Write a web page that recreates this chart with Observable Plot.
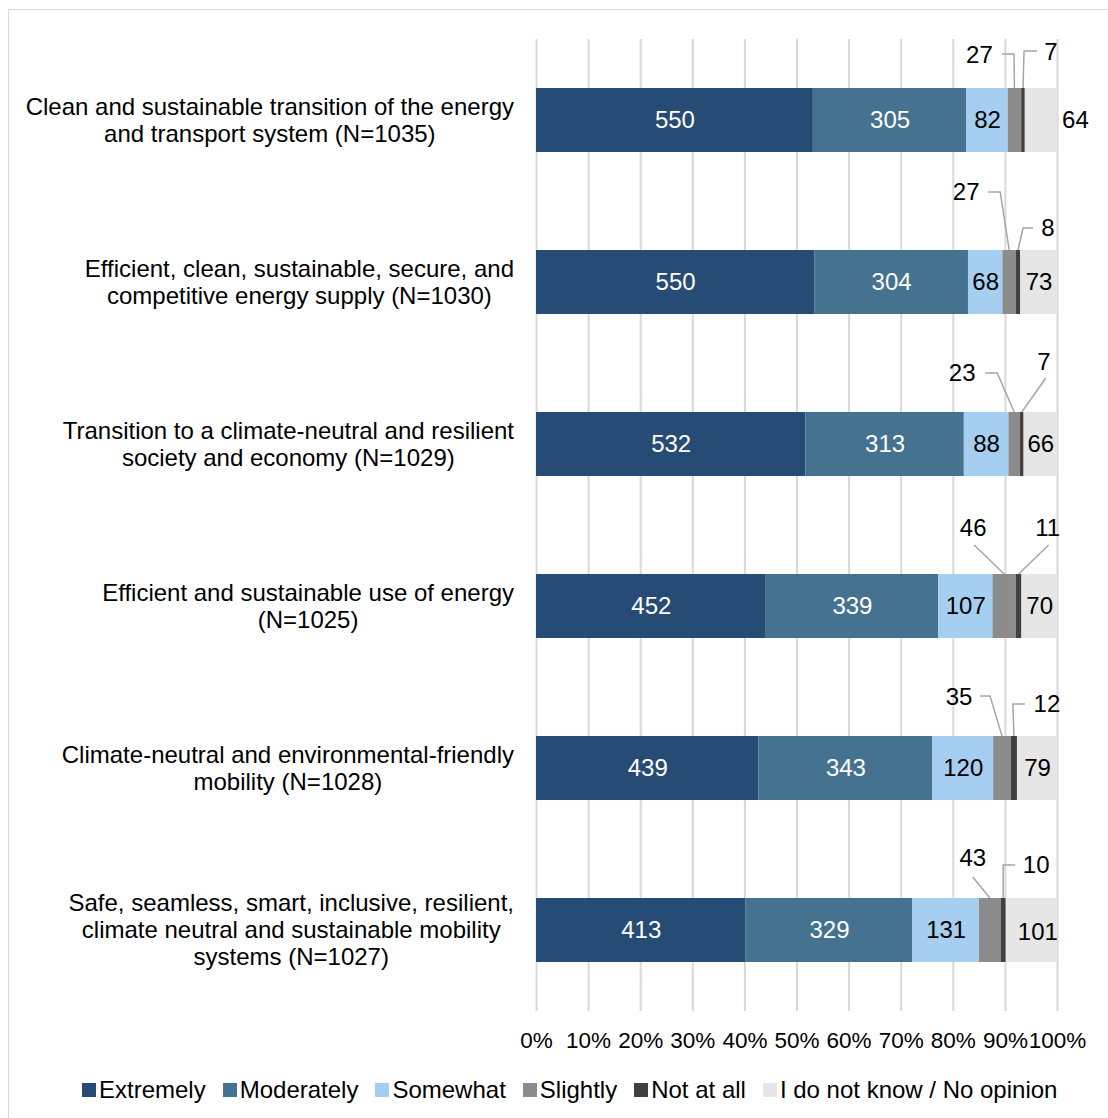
<!DOCTYPE html>
<html>
<head>
<meta charset="utf-8">
<script src="https://cdn.jsdelivr.net/npm/d3@7"></script>
<script src="https://cdn.jsdelivr.net/npm/@observablehq/plot@0.6"></script>
<style>
  html, body { margin: 0; padding: 0; background: #fff; overflow: hidden; }
  body { font-family: "Liberation Sans", Arial, sans-serif; width: 1108px; height: 1118px; position: relative; }
  #frame { position: absolute; left: 8px; top: 9px; width: 1300px; height: 1300px; border: 1px solid #d9d9d9; }
  #chart { position: absolute; left: 0; top: 0; }
  #legend { position: absolute; left: 82px; top: 1076px; display: flex; align-items: center; font-size: 24px; line-height: 28px; color: #000; white-space: nowrap; }
  #legend .item { display: flex; align-items: center; margin-right: 17px; }
  #legend .sw { width: 14px; height: 14px; margin-right: 3px; }
</style>
</head>
<body>
<div id="frame"></div>
<div id="chart"></div>
<div id="legend"></div>
<script>
// ---- data ----
const categories = [
  "Clean and sustainable transition of the energy\nand transport system (N=1035)",
  "Efficient, clean, sustainable, secure, and\ncompetitive energy supply (N=1030)",
  "Transition to a climate-neutral and resilient\nsociety and economy (N=1029)",
  "Efficient and sustainable use of energy\n(N=1025)",
  "Climate-neutral and environmental-friendly\nmobility (N=1028)",
  "Safe, seamless, smart, inclusive, resilient,\nclimate neutral and sustainable mobility\nsystems (N=1027)"
];
const series = ["Extremely", "Moderately", "Somewhat", "Slightly", "Not at all", "I do not know / No opinion"];
const extremely  = [550, 550, 532, 452, 439, 413];
const moderately = [305, 304, 313, 339, 343, 329];
const somewhat   = [82, 68, 88, 107, 120, 131];
const slightly   = [27, 27, 23, 46, 35, 43];
const notAtAll   = [7, 8, 7, 11, 12, 10];
const noOpinion  = [64, 73, 66, 70, 79, 101];
const tickValues = [0, 0.1, 0.2, 0.3, 0.4, 0.5, 0.6, 0.7, 0.8, 0.9, 1];

// ---- style / layout ----
const colors = ["#264b74", "#44728f", "#a6cef0", "#8c8c8c", "#404040", "#e6e6e6"];
const FONT = '"Liberation Sans", Arial, sans-serif';
// callout label placement (pixel offsets from segment centre at bar top)
const calloutLayout = [
  [{label: [-35, -33], path: [[-12.5, -34], [-0.5, -34]]}, {label: [28, -36], path: [[14, -37], [1, -37]]}],
  [{label: [-43, -58], path: [[-21, -58], [-9, -58]]},     {label: [30, -22], path: [[15, -22], [5, -22]]}],
  [{label: [-52, -39], path: [[-29, -39], [-17, -39]]},    {label: [22, -50], path: [[24, -34]]}],
  [{label: [-31, -46], path: [[-30, -29]]},                {label: [29, -46], path: [[30, -29]]}],
  [{label: [-43, -39], path: [[-22, -40], [-12, -40]]},    {label: [33, -32], path: [[11, -32], [-1, -32]]}],
  [{label: [-17, -40], path: [[-17, -21]]},                {label: [33, -33], path: [[12, -33], [0, -33]]}]
];

const seriesValues = [extremely, moderately, somewhat, slightly, notAtAll, noOpinion];
const table = [];
categories.forEach((c, i) => seriesValues.forEach((vals, k) => table.push({category: c, row: i, series: series[k], k, value: vals[i]})));

function annotations(index, scales) {
  const x = scales.x, y = scales.y;
  const bw = (y.bandwidth ? y.bandwidth() : (y(categories[1]) - y(categories[0])) * (1 - 0.605));
  const g = d3.create("svg:g").attr("font-family", FONT);
  // category labels: block right-aligned, lines centred
  const ctx = document.createElement("canvas").getContext("2d");
  ctx.font = `24px ${FONT}`;
  categories.forEach((c) => {
    const lines = c.split("\n");
    const maxW = d3.max(lines, l => ctx.measureText(l).width);
    const cx = x(0) - 22 - maxW / 2;
    const cy = y(c) + bw / 2;
    const lh = 27;
    const t = g.append("text").attr("text-anchor", "middle").attr("font-size", 24).attr("fill", "#000");
    lines.forEach((l, j) => t.append("tspan").attr("x", cx).attr("y", cy + (j - (lines.length - 1) / 2) * lh).attr("dy", "0.35em").text(l));
  });
  // callouts for Slightly / Not at all
  categories.forEach((c, i) => {
    const vals = seriesValues.map(s => s[i]);
    const total = d3.sum(vals);
    [3, 4].forEach((k, j) => {
      const before = d3.sum(vals.slice(0, k));
      const ax = x((before + vals[k] / 2) / total);
      const ay = y(c);
      const lay = calloutLayout[i][j];
      const pts = lay.path.map(([dx, dy]) => [ax + dx, ay + dy]).concat([[ax, ay]]);
      g.append("path").attr("d", d3.line()(pts)).attr("fill", "none").attr("stroke", "#a6a6a6").attr("stroke-width", 1.5);
      g.append("text").attr("x", ax + lay.label[0]).attr("y", ay + lay.label[1]).attr("dy", "0.35em")
        .attr("text-anchor", "middle").attr("font-size", 24).attr("fill", "#000").text(vals[k]);
    });
  });
  return g.node();
}

const stackOpts = {x: "value", y: "category", z: "series", offset: "normalize", order: series};

const plot = Plot.plot({
  width: 1108,
  height: 1060,
  marginLeft: 536,
  marginRight: 51,
  marginTop: 39,
  marginBottom: 49,
  style: {fontFamily: FONT, background: "transparent", overflow: "visible"},
  x: {domain: [0, 1], axis: null},
  y: {domain: categories, axis: null, paddingInner: 0.605, paddingOuter: 0.3025},
  color: {domain: series, range: colors},
  marks: [
    Plot.ruleX(tickValues, {x: d => d, stroke: "#d9d9d9", strokeWidth: 2, strokeOpacity: 1}),
    Plot.text(tickValues, {x: d => d, frameAnchor: "bottom", dy: 29, lineAnchor: "middle",
      text: d => `${Math.round(d * 100)}%`, fontSize: 22.5, fill: "#000"}),
    Plot.barX(table, Plot.stackX({...stackOpts, fill: "series"})),
    Plot.text(table, Plot.stackX({...stackOpts, text: d => d.k < 2 ? String(d.value) : "",
      fill: "#fff", fontSize: 24, lineAnchor: "middle"})),
    Plot.text(table, Plot.stackX({...stackOpts, text: d => (d.k === 2 || (d.k === 5 && d.row > 0 && d.row < 5)) ? String(d.value) : "",
      fill: "#000", fontSize: 24, lineAnchor: "middle"})),
    Plot.text(table, Plot.stackX({...stackOpts, text: d => (d.k === 5 && d.row === 0) ? String(d.value) : "",
      fill: "#000", fontSize: 24, lineAnchor: "middle", dx: 34})),
    Plot.text(table, Plot.stackX({...stackOpts, text: d => (d.k === 5 && d.row === 5) ? String(d.value) : "",
      fill: "#000", fontSize: 24, lineAnchor: "middle", dx: 6, dy: 2})),
    annotations
  ]
});
document.getElementById("chart").appendChild(plot);

const legend = d3.select("#legend");
series.forEach((s, k) => {
  const it = legend.append("div").attr("class", "item");
  it.append("div").attr("class", "sw").style("background", colors[k]);
  it.append("span").text(s);
});
</script>
</body>
</html>
